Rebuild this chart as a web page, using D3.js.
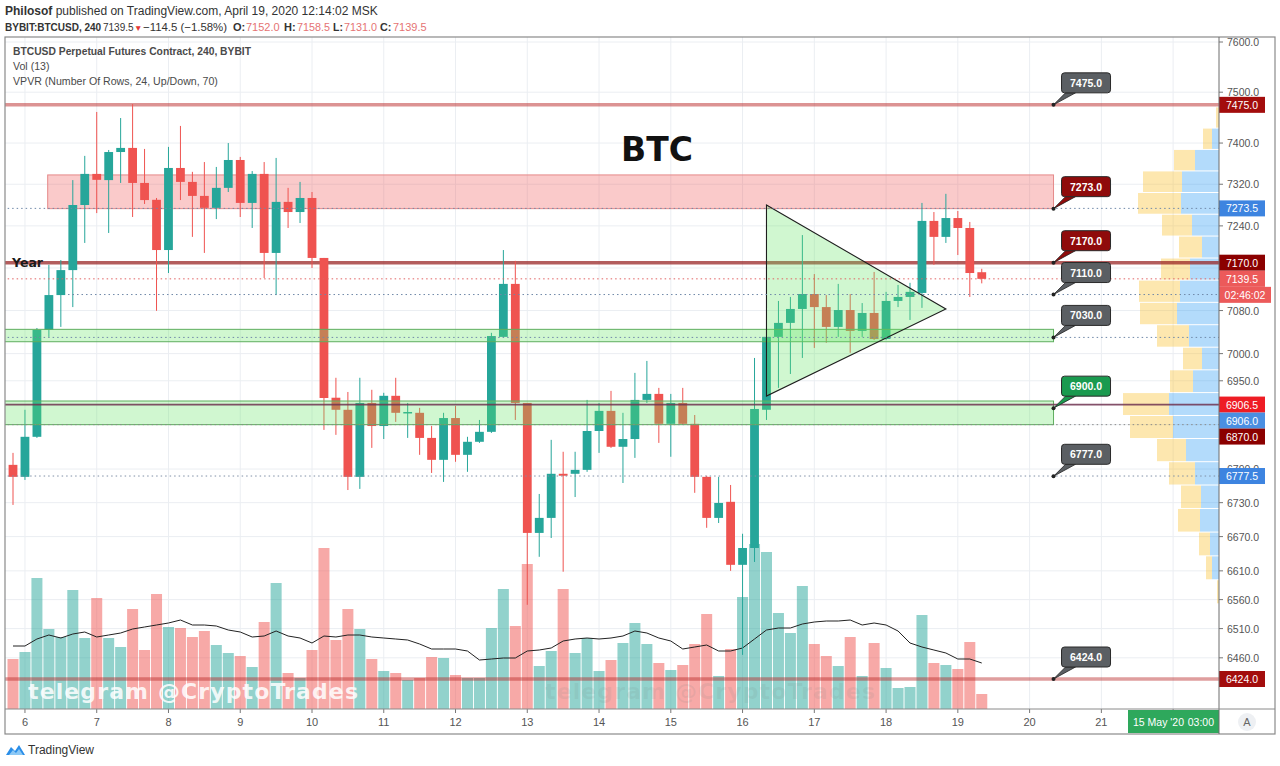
<!DOCTYPE html>
<html><head><meta charset="utf-8">
<script src="https://cdn.jsdelivr.net/npm/d3@7"></script>
<style>
body{margin:0;background:#fff;}
svg{display:block;font-family:"Liberation Sans",Arial,sans-serif;}
</style></head><body>
<svg id="c" width="1280" height="766"></svg>
<script>
// ---------------- DATA ----------------
const opens=[6797.5,6776,6848,7044,7109,7156,7280,7340,7328,7382.5,7390.5,7322.5,7290,7194,7351.5,7324.5,7297.5,7274.5,7313,7367,7284,7340,7188.5,7286,7266.5,7293.5,7179,6919,6897,6776,6909.5,6867.5,6922.5,6891.5,6891.5,6846,6806.5,6882,6815.5,6839,6857,7031,7130,6909.5,6676.5,6703,6781.5,6781.5,6788.5,6858.5,6895,6830,6844,6915,6926,6871.5,6909.5,6871.5,6776,6703,6731.5,6620.5,6650,6897,7031,7057,7083,7111,7086.5,7049.5,7081,7042,7075.5,7027,7098,7105.5,7113,7249.5,7219,7255,7236,7152];
const highs=[6819,6897,7047.5,7166,7175,7328,7375,7461,7386.5,7449,7476.5,7388.5,7293.5,7392.5,7433.5,7344,7363,7353.5,7400,7373,7345.5,7363,7371,7313,7324.5,7305,7179,6955.5,6929.5,6955.5,6933.5,6928,6955.5,6909.5,6900.5,6867.5,6891.5,6904,6848,6878.5,7038.5,7194,7173.5,6909.5,6745.5,6842.5,6821,6821,6915,6909.5,6931.5,6891.5,6964.5,6986.5,6937,6926,6937,6887.5,6778,6776,6761.5,6675,6992,7034.5,7098,7105.5,7222.5,7148.5,7109,7130,7111,7094,7152.5,7115,7128,7132,7284,7266.5,7301.5,7268.5,7247.5,7158.5];
const lows=[6726,6770.5,6846,7031,7049.5,7086.5,7207.5,7264.5,7226.5,7322.5,7257,7282,7079.5,7150.5,7289.5,7219,7188.5,7253,7305,7257,7236,7141,7109,7236,7245.5,7160,6860.5,6851.5,6752.5,6754.5,6828,6844,6875,6846,6815.5,6783,6767,6803,6785,6837,6855,7031,6878.5,6551,6634.5,6667.5,6608.5,6740,6785,6819,6828,6765,6810,6909.5,6837,6812,6869.5,6747.5,6685.5,6694,6610,6465,6625.5,6878.5,6937,6962.5,6992,7010.5,7020,7031,7001.5,7031,7025,7025,7086.5,7062.5,7085,7166,7207.5,7184.5,7105.5,7131];
const closes=[6776,6848,7044,7109,7156,7280,7340,7328.5,7382.5,7390.5,7322.5,7289.5,7194,7351.5,7324.5,7297.5,7274.5,7313,7367,7284,7340,7188.5,7286,7266.5,7293.5,7179,6918.5,6897,6776,6909.5,6867.5,6922.5,6891.5,6893,6846,6806.5,6882,6815.5,6839,6857,7032.5,7130,6909.5,6676.5,6703,6781.5,6778,6788.5,6858.5,6895,6830,6844,6915,6926,6871.5,6909.5,6871.5,6776,6703,6729.5,6620.5,6650,6898.5,7031,7057,7083,7111,7086.5,7049.5,7081,7042,7075.5,7027,7098,7105.5,7115,7249.5,7219,7255,7236,7150.5,7139.5];
const volumes=[20.0,22.8,52.4,32.0,28.8,47.6,28.4,44.4,28.4,24.8,40.0,23.6,46.0,32.8,32.4,28.8,31.2,25.6,22.4,21.2,16.8,34.8,50.4,14.4,12.4,23.6,64.4,27.6,40.0,32.0,20.0,15.2,14.4,11.6,12.4,20.8,20.4,13.6,12.4,12.4,32.4,48.0,33.2,58.0,17.2,23.2,48.0,22.4,28.4,15.2,19.6,26.4,34.4,26.0,18.4,15.6,17.6,26.0,38.0,13.2,24.0,44.8,66.0,62.8,38.4,30.4,49.2,26.0,21.2,17.2,28.8,13.2,26.4,16.4,8.4,8.8,37.6,18.4,17.6,16.0,26.8,6.0];
const volMA=[25.2,25.2,28.0,29.6,28.4,30.0,30.8,28.8,29.6,30.4,32.0,32.8,33.6,34.4,35.6,33.6,33.6,33.2,31.6,30.8,28.8,29.2,31.2,29.2,28.4,26.4,29.2,28.8,29.6,29.6,28.8,28.4,28.0,27.6,26.0,24.0,24.0,24.0,23.2,19.6,20.0,20.4,20.4,23.2,23.6,24.4,27.2,28.0,28.4,28.0,28.4,29.2,31.2,30.4,28.4,27.2,24.0,24.8,25.6,23.2,23.2,24.4,28.0,31.6,32.4,32.4,34.0,34.8,35.2,35.2,35.6,33.6,34.4,33.6,31.2,26.4,24.8,23.6,22.4,20.0,20.0,18.4];
const dayNums=[6,7,8,9,10,11,12,13,14,15,16,17,18,19,20,21,22];
const dayLabels=["6","7","8","9","10","11","12","13","14","15","16","17","18","19","20","21"];
const priceTicks=[7600,7500,7400,7320,7240,7160,7080,7000,6950,6870,6790,6730,6670,6610,6560,6510,6460];
// VPVR, 24 rows from bottom
const vpLow=6511, vpStep=41.74;
const vpUp  =[0,0,7,9,19,18,24,33,46,50,26,17,30,42,39,29,17,27,38,37,24,7,0,0];
const vpDown=[0,2,6,11,22,20,26,29,43,46,23,19,32,37,41,29,23,30,43,39,21,9,3,0];
// annotations (prices)
const callouts=[
 {p:7475,t:"7475.0",c:"#5b5f63"},{p:7273,t:"7273.0",c:"#8f0b0b"},{p:7170,t:"7170.0",c:"#8f0b0b"},
 {p:7110,t:"7110.0",c:"#5b5f63"},{p:7030,t:"7030.0",c:"#5b5f63"},{p:6900,t:"6900.0",c:"#1a9a4f"},
 {p:6777,t:"6777.0",c:"#5b5f63"},{p:6424,t:"6424.0",c:"#5b5f63"}];
const axisBadges=[
 {p:7475,t:"7475.0",c:"#a30d0d"},{p:7273.5,t:"7273.5",c:"#3d84e0"},{p:7170,t:"7170.0",c:"#8b0000"},
 {p:7139.5,t:"7139.5",c:"#ec5a5a"},{p:7139.5,t:"02:46:02",c:"#ec5a5a",w:52},
 {p:6906.5,t:"6906.5",c:"#ee1c24"},{p:6906,t:"6906.0",c:"#4a8fe2"},{p:6870,t:"6870.0",c:"#8b0000"},
 {p:6777.5,t:"6777.5",c:"#3d84e0"},{p:6424,t:"6424.0",c:"#a30d0d"}];
const thickLines=[{p:7475,c:"rgba(185,40,40,0.5)",w:3.5},{p:7170,c:"rgba(150,30,30,0.72)",w:3.5},{p:6424,c:"rgba(185,40,40,0.45)",w:3.5}];
const dottedLines=[{p:7273.5,c:"#6f88a8",b0:-1.2},{p:7139.5,c:"#e06060",b0:-1.2},{p:7110,c:"#6f88a8",b0:4.6},{p:7030,c:"#6f88a8",b0:-1.2},{p:6870,c:"#8a8a8a",b0:-1.2},{p:6777.5,c:"#7f8fa6",b0:-1.2}];
const zoneEnd=87;
const redZone={p0:7273,p1:7338,b0:2.9};
const greenZones=[{p0:7022,p1:7045},{p0:6870,p1:6913}];
const triangle=[{b:63,p:7280},{b:78,p:7083},{b:63,p:6922}];

// ---------------- SCALES ----------------
const L=5,R=1219,T=37,B=709,RE=1275,BE=734;
const x=d3.scaleLinear().domain([0,1]).range([13,24.96]);
const y=d3.scaleLog().domain([6424,7600]).range([679,42]);
const yv=d3.scaleLinear().domain([0,80]).range([B,B-200]);
const dayBar=d=>1+6*(d-6);
const svg=d3.select("#c");
svg.append("rect").attr("width",1280).attr("height",766).attr("fill","#fff");
svg.append("defs").append("clipPath").attr("id","clip").append("rect").attr("x",L).attr("y",T).attr("width",R-L).attr("height",B-T);
const plot=svg.append("g").attr("clip-path","url(#clip)");

// grid
plot.selectAll(".vg").data(dayNums).join("line").attr("x1",d=>x(dayBar(d))).attr("x2",d=>x(dayBar(d))).attr("y1",T).attr("y2",B).attr("stroke","#ebeef2");
plot.selectAll(".hg").data(priceTicks).join("line").attr("x1",L).attr("x2",R).attr("y1",d=>y(d)).attr("y2",d=>y(d)).attr("stroke","#ebeef2");

// red zone (behind candles)
plot.append("rect").attr("x",x(redZone.b0)).attr("width",x(zoneEnd)-x(redZone.b0)).attr("y",y(redZone.p1)).attr("height",y(redZone.p0)-y(redZone.p1))
  .attr("fill","rgba(240,80,80,0.3)").attr("stroke","#e58a8a").attr("stroke-width",1);

// volume
const up=i=>closes[i]>=opens[i];
plot.selectAll(".vol").data(volumes).join("rect").attr("x",(d,i)=>x(i)-5.5).attr("width",11).attr("y",d=>yv(d)).attr("height",d=>yv(0)-yv(d))
  .attr("fill",(d,i)=>up(i)?"rgba(38,166,154,0.5)":"rgba(239,83,80,0.5)");
plot.append("path").datum(volMA).attr("d",d3.line().x((d,i)=>x(i)).y(d=>yv(d))).attr("fill","none").attr("stroke","#222").attr("stroke-width",1);

// VPVR
const vpx=d3.scaleLinear().domain([0,d3.max(vpUp.map((u,k)=>u+vpDown[k]))]).range([0,96]);
const vp=plot.append("g");
vpUp.forEach((u,k)=>{
  const yt=y(vpLow+(k+1)*vpStep), yb=y(vpLow+k*vpStep);
  vp.append("rect").attr("x",R-vpx(u)).attr("width",vpx(u)).attr("y",yt+0.5).attr("height",yb-yt-1).attr("fill","rgba(33,150,243,0.34)");
  vp.append("rect").attr("x",R-vpx(u+vpDown[k])).attr("width",vpx(vpDown[k])).attr("y",yt+0.5).attr("height",yb-yt-1).attr("fill","rgba(251,192,45,0.38)");
});

// thick horizontal lines
plot.selectAll(".tl").data(thickLines).join("line").attr("x1",L).attr("x2",R).attr("y1",d=>y(d.p)).attr("y2",d=>y(d.p)).attr("stroke",d=>d.c).attr("stroke-width",d=>d.w);

// candles
const cg=plot.append("g");
cg.selectAll(".wick").data(opens).join("line").attr("x1",(d,i)=>x(i)).attr("x2",(d,i)=>x(i)).attr("y1",(d,i)=>y(highs[i])).attr("y2",(d,i)=>y(lows[i]))
  .attr("stroke",(d,i)=>up(i)?"#26a69a":"#ef5350").attr("stroke-width",1);
cg.selectAll(".body").data(opens).join("rect").attr("x",(d,i)=>x(i)-4.4).attr("width",8.8)
  .attr("y",(d,i)=>y(Math.max(d,closes[i]))).attr("height",(d,i)=>Math.max(1.5,Math.abs(y(d)-y(closes[i]))))
  .attr("fill",(d,i)=>up(i)?"#26a69a":"#ef5350");

// green zones & triangle (overlay)
plot.selectAll(".gz").data(greenZones).join("rect").attr("x",L-2).attr("width",x(zoneEnd)-L+2).attr("y",d=>y(d.p1)).attr("height",d=>y(d.p0)-y(d.p1))
  .attr("fill","rgba(100,230,100,0.3)").attr("stroke","#5fae5f").attr("stroke-width",1);
plot.append("path").attr("d",d3.line().x(d=>x(d.b)).y(d=>y(d.p))(triangle)+"Z").attr("fill","rgba(100,230,100,0.3)").attr("stroke","#1e1e1e").attr("stroke-width",1.1);
// 6906.5 line over zone
plot.append("line").attr("x1",L).attr("x2",R).attr("y1",y(6906.5)).attr("y2",y(6906.5)).attr("stroke","rgba(110,50,80,0.85)").attr("stroke-width",1.6);

// dotted lines
plot.selectAll(".dl").data(dottedLines).join("line").attr("x1",d=>x(d.b0)).attr("x2",R).attr("y1",d=>y(d.p)).attr("y2",d=>y(d.p))
  .attr("stroke",d=>d.c).attr("stroke-width",1).attr("stroke-dasharray","1.5,3");

// callouts
const co=plot.selectAll(".co").data(callouts).join("g").attr("transform",d=>`translate(${x(zoneEnd)},${y(d.p)})`);
co.append("path").attr("d","M0,0 L12,-12 L22,-12 Z").attr("fill",d=>d.c).attr("stroke","#222").attr("stroke-width",0.8);
co.append("rect").attr("x",8).attr("y",-32).attr("width",49).attr("height",20).attr("rx",3).attr("fill",d=>d.c).attr("stroke","#2a2a2a").attr("stroke-width",1);
co.append("circle").attr("r",2).attr("fill","#222");
co.append("text").attr("x",32.5).attr("y",-18).attr("text-anchor","middle").attr("fill","#fff").attr("font-weight","bold").attr("font-size",10.5).text(d=>d.t);

// texts in pane
plot.append("text").attr("x",657).attr("y",161).attr("text-anchor","middle").attr("font-family","DejaVu Sans").attr("font-weight","bold").attr("font-size",33).attr("fill","#111").text("BTC");
plot.append("text").attr("x",12).attr("y",267).attr("font-family","DejaVu Sans").attr("font-weight","bold").attr("font-size",12.5).attr("fill","#1a1a1a").text("Year");
plot.append("text").attr("x",28).attr("y",699).attr("font-family","DejaVu Sans").attr("font-weight","bold").attr("font-size",22).attr("textLength",330).attr("fill","rgba(255,255,255,0.85)").text("telegram @CryptoTrades");
plot.append("text").attr("x",545).attr("y",699).attr("font-family","DejaVu Sans").attr("font-weight","bold").attr("font-size",22).attr("textLength",330).attr("fill","rgba(120,130,130,0.13)").text("telegram @CryptoTrades");
const lg=plot.append("g").attr("fill","#4a4a4a");
lg.append("text").attr("x",13).attr("y",55).attr("font-size",10.3).attr("font-weight","bold").text("BTCUSD Perpetual Futures Contract, 240, BYBIT");
lg.append("text").attr("x",13).attr("y",70).attr("font-size",10.6).text("Vol (13)");
lg.append("text").attr("x",13).attr("y",85).attr("font-size",10.6).text("VPVR (Number Of Rows, 24, Up/Down, 70)");

// ---------------- AXES ----------------
svg.append("rect").attr("x",R).attr("y",T).attr("width",RE-R).attr("height",BE-T).attr("fill","#fff");
svg.append("rect").attr("x",L).attr("y",B).attr("width",R-L).attr("height",BE-B).attr("fill","#fff");
// axis badges with simple collision layout
const bl=axisBadges.map(d=>({...d,yy:y(d.p)}));
for(let i=1;i<bl.length;i++){ if(bl[i].yy<bl[i-1].yy+16) bl[i].yy=bl[i-1].yy+16; }
const shownTicks=priceTicks.filter(p=>!bl.some(b=>Math.abs(b.yy-y(p))<6));
const pa=svg.append("g");
pa.selectAll("line").data(priceTicks).join("line").attr("x1",R).attr("x2",R+4).attr("y1",d=>y(d)).attr("y2",d=>y(d)).attr("stroke","#777");
pa.selectAll("text").data(shownTicks).join("text").attr("x",R+8).attr("y",d=>y(d)+4).attr("font-size",10.5).attr("fill","#555").text(d=>d.toFixed(1));
const ab=svg.selectAll(".ab").data(bl).join("g").attr("transform",d=>`translate(${R},${d.yy})`);
ab.append("rect").attr("x",0).attr("y",-8).attr("width",d=>d.w||46).attr("height",16).attr("fill",d=>d.c);
ab.append("text").attr("x",d=>(d.w||46)/2).attr("y",4).attr("text-anchor","middle").attr("fill","#fff").attr("font-size",10.5).text(d=>d.t);

// time axis
const ta=svg.append("g");
ta.selectAll("line").data(dayNums).join("line").attr("x1",d=>x(dayBar(d))).attr("x2",d=>x(dayBar(d))).attr("y1",B).attr("y2",B+4).attr("stroke","#777");
ta.selectAll("text").data(dayLabels).join("text").attr("x",d=>x(dayBar(+d))).attr("y",B+17).attr("text-anchor","middle").attr("font-size",11).attr("fill","#555").text(d=>d);
svg.append("rect").attr("x",1128).attr("y",B+1).attr("width",R-1128).attr("height",BE-B-2).attr("fill","#2ea85c");
svg.append("text").attr("x",1133).attr("y",B+17).attr("fill","#fff").attr("font-size",10.5).text("15 May '20");
svg.append("text").attr("x",1214).attr("y",B+17).attr("text-anchor","end").attr("fill","#fff").attr("font-size",10.5).text("03:00");
svg.append("circle").attr("cx",1247).attr("cy",722).attr("r",9).attr("fill","#eef0f3");
svg.append("text").attr("x",1247).attr("y",726).attr("text-anchor","middle").attr("fill","#666").attr("font-size",11).text("A");

// frame
svg.append("rect").attr("x",L).attr("y",T).attr("width",RE-L).attr("height",BE-T).attr("fill","none").attr("stroke","#8a8a8a").attr("stroke-width",1.2);
svg.append("line").attr("x1",R).attr("x2",R).attr("y1",T).attr("y2",BE).attr("stroke","#6d6d6d");
svg.append("line").attr("x1",L).attr("x2",RE).attr("y1",B).attr("y2",B).attr("stroke","#8a8a8a");

// header
const h1=svg.append("text").attr("x",5).attr("y",15).attr("font-size",12).attr("fill","#333");
h1.append("tspan").attr("font-weight","bold").text("Philosof");
h1.append("tspan").text(" published on TradingView.com, April 19, 2020 12:14:02 MSK");
const hdr=[
 {t:"BYBIT:BTCUSD, 240",x:5,fs:10,b:true,c:"#333"},{t:"7139.5",x:103,fs:10,c:"#333"},{t:"▼",x:134,fs:8.5,c:"#e53935"},
 {t:"−114.5 (−1.58%)",x:143,fs:11.4,c:"#333"},
 {t:"O:",x:233,fs:11,b:true,c:"#333"},{t:"7152.0",x:246,fs:11,c:"#e57373"},
 {t:"H:",x:284,fs:11,b:true,c:"#333"},{t:"7158.5",x:297,fs:10.8,c:"#e57373"},
 {t:"L:",x:333,fs:10.5,b:true,c:"#333"},{t:"7131.0",x:344,fs:10.8,c:"#e57373"},
 {t:"C:",x:380,fs:10.8,b:true,c:"#333"},{t:"7139.5",x:393,fs:11,c:"#e57373"}];
const h2=svg.append("text").attr("y",31).attr("fill","#333");
hdr.forEach(d=>h2.append("tspan").attr("x",d.x).attr("font-size",d.fs).attr("font-weight",d.b?"bold":"normal").attr("fill",d.c).text(d.t));

// footer logo
const fl=svg.append("g").attr("transform","translate(6,743)");
fl.append("path").attr("d","M0,12 L5,4 L9,8 L13,2 L19,12 Z").attr("fill","#2a8ee8");
fl.append("path").attr("d","M3,12 L7,7 L10,10 L13,6 L17,12 Z").attr("fill","#8cc8f5");
svg.append("text").attr("x",28).attr("y",754).attr("font-size",12).attr("fill","#333").text("TradingView");
</script>
</body></html>
